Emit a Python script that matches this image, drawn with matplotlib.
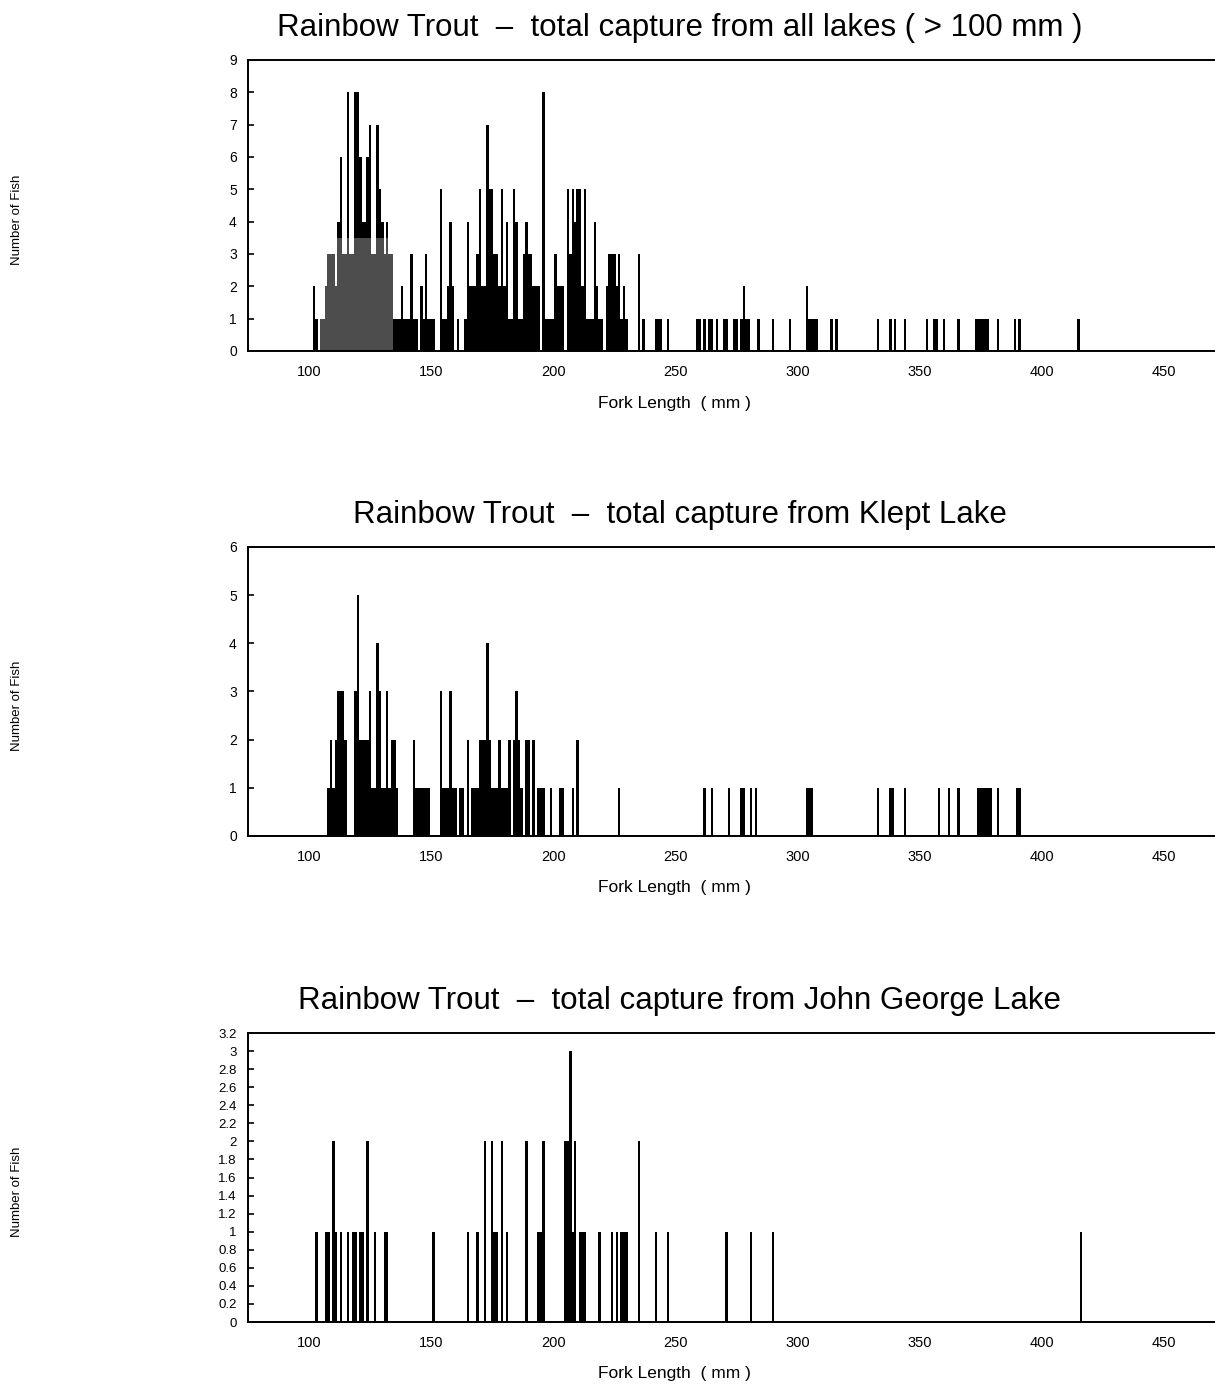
import matplotlib.pyplot as plt
import numpy as np

plt.rcParams['font.family'] = ['Liberation Sans', 'DejaVu Sans']

# fork length (mm) and number of fish, all lakes (> 100 mm)
all_len = [102, 103, 105, 106, 107, 108, 109, 110, 111, 112, 113, 114, 115, 116, 117, 118,
           119, 120, 121, 122, 123, 124, 125, 126, 127, 128, 129, 130, 131, 132, 133, 134,
           135, 136, 137, 138, 139, 140, 141, 142, 143, 144, 146, 147, 148, 149, 150, 151,
           154, 155, 156, 157, 158, 159, 161, 164, 165, 166, 167, 168, 169, 170, 171, 172,
           173, 174, 175, 176, 177, 178, 179, 180, 181, 182, 183, 184, 185, 186, 187, 188,
           189, 190, 191, 192, 193, 194, 196, 197, 198, 199, 200, 201, 202, 203, 204, 206,
           207, 208, 209, 210, 211, 212, 213, 214, 215, 216, 217, 218, 219, 220, 222, 223,
           224, 225, 226, 227, 228, 229, 230, 235, 237, 242, 243, 244, 247, 259, 260, 262,
           264, 265, 267, 270, 271, 274, 275, 277, 278, 279, 280, 284, 290, 297, 304, 305,
           306, 307, 308, 314, 316, 333, 338, 340, 344, 353, 356, 357, 360, 366, 373, 374,
           375, 376, 377, 378, 382, 389, 391, 415]
all_n = [2, 1, 1, 1, 2, 3, 3, 3, 2, 4, 6, 3, 3, 8, 3, 3,
         8, 8, 6, 4, 4, 6, 7, 3, 3, 7, 5, 4, 3, 4, 3, 3,
         1, 1, 1, 2, 1, 1, 1, 3, 1, 1, 2, 1, 3, 1, 1, 1,
         5, 1, 1, 2, 4, 2, 1, 1, 4, 2, 2, 2, 3, 5, 2, 2,
         7, 5, 5, 3, 3, 2, 5, 2, 4, 1, 1, 5, 4, 1, 1, 3,
         4, 3, 3, 2, 2, 2, 8, 1, 1, 1, 1, 3, 2, 2, 2, 5,
         3, 5, 4, 5, 5, 2, 5, 1, 1, 1, 4, 2, 1, 1, 2, 3,
         3, 3, 2, 3, 1, 2, 1, 3, 1, 1, 1, 1, 1, 1, 1, 1,
         1, 1, 1, 1, 1, 1, 1, 1, 2, 1, 1, 1, 1, 1, 2, 1,
         1, 1, 1, 1, 1, 1, 1, 1, 1, 1, 1, 1, 1, 1, 1, 1,
         1, 1, 1, 1, 1, 1, 1, 1]

# Klept Lake
klept_len = [108, 109, 110, 111, 112, 113, 114, 115, 119, 120, 121, 122, 123, 124, 125, 126,
             127, 128, 129, 130, 131, 132, 133, 134, 135, 136, 143, 144, 145, 146, 147, 148,
             149, 154, 155, 156, 157, 158, 159, 160, 162, 163, 165, 167, 168, 169, 170, 171,
             172, 173, 174, 175, 176, 177, 178, 179, 180, 181, 182, 184, 185, 186, 187, 189,
             190, 192, 194, 195, 196, 199, 203, 204, 208, 210, 227, 262, 265, 272, 277, 278,
             281, 283, 304, 305, 306, 333, 338, 339, 344, 358, 362, 366, 374, 375, 376, 377,
             378, 379, 382, 390, 391]
klept_n = [1, 2, 1, 2, 3, 3, 3, 2, 3, 5, 2, 2, 2, 2, 3, 1,
           1, 4, 3, 1, 1, 3, 1, 2, 2, 1, 2, 1, 1, 1, 1, 1,
           1, 3, 1, 1, 1, 3, 1, 1, 1, 1, 2, 1, 1, 1, 2, 2,
           2, 4, 2, 1, 1, 1, 2, 1, 1, 1, 2, 2, 3, 2, 1, 2,
           2, 2, 1, 1, 1, 1, 1, 1, 1, 2, 1, 1, 1, 1, 1, 1,
           1, 1, 1, 1, 1, 1, 1, 1, 1, 1, 1, 1, 1, 1, 1, 1,
           1, 1, 1, 1, 1]

# John George Lake
jg_len = [103, 107, 108, 110, 111, 113, 116, 118, 119, 121, 122, 124, 127, 131, 132, 151,
          165, 169, 172, 175, 176, 177, 179, 181, 189, 194, 195, 196, 205, 206, 207, 208,
          209, 211, 212, 213, 219, 224, 226, 228, 229, 230, 235, 242, 247, 271, 281, 290,
          416]
jg_n = [1, 1, 1, 2, 1, 1, 1, 1, 1, 1, 1, 2, 1, 1, 1, 1,
        1, 1, 2, 2, 1, 1, 2, 1, 2, 1, 1, 2, 2, 2, 3, 1,
        2, 1, 1, 1, 1, 1, 1, 1, 1, 1, 2, 1, 1, 1, 1, 1,
        1]

titles = ["Rainbow Trout  \u2013  total capture from all lakes ( > 100 mm )",
          "Rainbow Trout  \u2013  total capture from Klept Lake",
          "Rainbow Trout  \u2013  total capture from John George Lake"]
x_ticks = [100, 150, 200, 250, 300, 350, 400, 450]

fig = plt.figure(figsize=(12.15, 13.9), dpi=100)

# axes boxes [left, bottom, width, height] in figure fractions
boxes = [[0.2041, 0.7475, 0.80, 0.2094],
         [0.2041, 0.3986, 0.80, 0.2079],
         [0.2041, 0.0489, 0.80, 0.2079]]
data = [(all_len, all_n), (klept_len, klept_n), (jg_len, jg_n)]
ylims = [9, 6, 3.2]

for i in range(3):
    ax = fig.add_axes(boxes[i])
    x, n = data[i]
    ax.bar(x, n, width=1.0, color='black', linewidth=0, align='center')
    if i == 0:
        # greyish scan tone over the dense low part of the first panel
        xs = np.array(x)
        ns = np.minimum(np.array(n), 3.5)
        sel = (xs >= 105) & (xs <= 134)
        ax.bar(xs[sel], ns[sel], width=1.0, color='#4d4d4d', linewidth=0)
    ax.plot([75, 475], [0, 0], color='black', lw=1.2)
    ax.set_xlim(75, 473)
    ax.set_ylim(0, ylims[i])
    if i == 2:
        yt = np.round(np.arange(0, 3.21, 0.2), 1)
        ax.set_yticks(yt)
        ax.set_yticklabels([('%g' % v) for v in yt], fontsize=9.5)
    else:
        ax.set_yticks(range(0, ylims[i] + 1))
        ax.set_yticklabels([str(v) for v in range(0, ylims[i] + 1)], fontsize=10)
    ax.set_xticks(x_ticks)
    ax.set_xticklabels([str(v) for v in x_ticks], fontsize=10.5)
    ax.tick_params(axis='y', direction='in', length=4, width=1.2, pad=8)
    ax.tick_params(axis='x', length=0, pad=10)
    ax.spines['right'].set_visible(False)
    for s in ['top', 'left', 'bottom']:
        ax.spines[s].set_linewidth(1.4)
    ax.set_title(titles[i], fontsize=22.5, pad=17.5, x=0.444)
    ax.set_xlabel("Fork Length  ( mm )", fontsize=12.5)
    ax.xaxis.set_label_coords(0.439, -0.153)
    fig.text(0.014, boxes[i][1] + boxes[i][3] * 0.45, "Number of Fish",
             rotation=90, fontsize=9.5, ha='center', va='center')

plt.savefig('out.png')
